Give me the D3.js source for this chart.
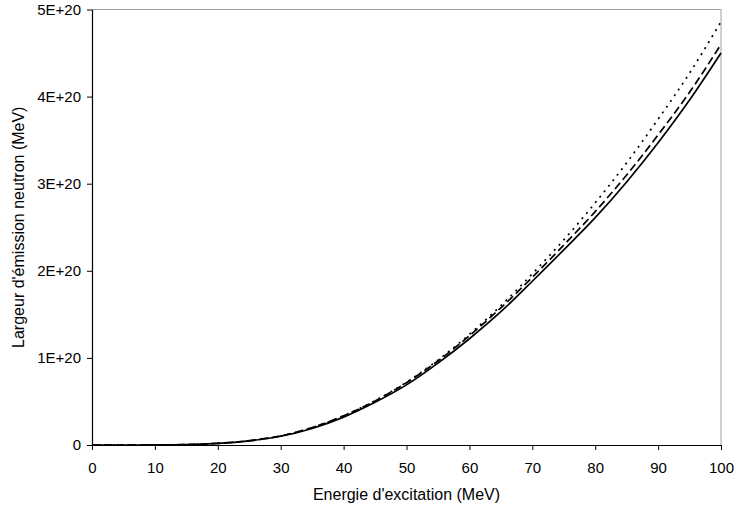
<!DOCTYPE html>
<html>
<head>
<meta charset="utf-8">
<script src="https://cdn.jsdelivr.net/npm/d3@7"></script>
<style>
  body { margin: 0; background: #fff; }
  text { font-family: "Liberation Sans", Arial, sans-serif; }
</style>
</head>
<body>
<script>
// excitation energy (MeV)
const energy = [0, 5, 10, 15, 20, 25, 30, 35, 40, 45, 50, 55, 60, 65, 70, 75, 80, 85, 90, 95, 100];
// neutron emission width, in units of 1E+20
const solid  = [0, 0, 0.0005, 0.004, 0.018, 0.048, 0.10, 0.19, 0.32, 0.49, 0.69, 0.94, 1.22, 1.53, 1.88, 2.24, 2.61, 3.02, 3.47, 3.96, 4.50];
const dashed = [0, 0, 0.0005, 0.004, 0.019, 0.050, 0.105, 0.20, 0.335, 0.505, 0.715, 0.965, 1.255, 1.575, 1.925, 2.295, 2.68, 3.10, 3.56, 4.05, 4.60];
const dotted = [0, 0, 0.0005, 0.004, 0.019, 0.050, 0.105, 0.20, 0.335, 0.51, 0.72, 0.975, 1.27, 1.60, 1.965, 2.355, 2.78, 3.24, 3.74, 4.27, 4.86];

const xTicks = [0, 10, 20, 30, 40, 50, 60, 70, 80, 90, 100];
const yTicks = [0, 1, 2, 3, 4, 5];
const yTickLabels = ["0", "1E+20", "2E+20", "3E+20", "4E+20", "5E+20"];

const series = [
  { values: solid, dash: null },
  { values: dashed, dash: "8,4" },
  { values: dotted, dash: "2,5" }
];

const width = 736, height = 509;
const mLeft = 92, mRight = 721, mTop = 9.5, mBottom = 445;

const svg = d3.select("body").append("svg")
    .attr("width", width)
    .attr("height", height);

const x = d3.scaleLinear().domain([0, 100]).range([mLeft, mRight]);
const y = d3.scaleLinear().domain([0, 5]).range([mBottom, mTop]);

// grey frame on top and right
svg.append("path")
    .attr("d", `M${mLeft},${mTop}H${mRight}V${mBottom}`)
    .attr("fill", "none")
    .attr("stroke", "#a0a0a0")
    .attr("stroke-width", 1);

const line = d3.line()
    .x((d, i) => x(energy[i]))
    .y(d => y(d))
    .curve(d3.curveMonotoneX);

svg.append("g")
    .selectAll("path")
    .data(series)
    .enter()
    .append("path")
    .attr("d", d => line(d.values))
    .attr("fill", "none")
    .attr("stroke", "#000")
    .attr("stroke-width", 1.7)
    .attr("stroke-dasharray", d => d.dash);

const xAxis = svg.append("g")
    .attr("transform", `translate(0,${mBottom})`)
    .call(d3.axisBottom(x).tickValues(xTicks).tickSize(5).tickSizeOuter(0).tickPadding(12));

const yAxis = svg.append("g")
    .attr("transform", `translate(${mLeft},0)`)
    .call(d3.axisLeft(y).tickValues(yTicks).tickFormat((d, i) => yTickLabels[i])
        .tickSize(5).tickSizeOuter(0).tickPadding(6));

[xAxis, yAxis].forEach(g => {
  g.select(".domain").attr("stroke", "#000").attr("stroke-width", 1.2);
  g.selectAll(".tick line").attr("stroke", "#000");
  g.selectAll(".tick text")
      .attr("font-size", 15)
      .attr("font-family", "Liberation Sans, Arial, sans-serif")
      .attr("fill", "#000");
});

svg.append("text")
    .attr("x", (mLeft + mRight) / 2)
    .attr("y", 500)
    .attr("text-anchor", "middle")
    .attr("font-size", 16)
    .text("Energie d'excitation (MeV)");

svg.append("text")
    .attr("transform", `translate(24,${(mTop + mBottom) / 2}) rotate(-90)`)
    .attr("text-anchor", "middle")
    .attr("font-size", 16)
    .text("Largeur d'émission neutron (MeV)");
</script>
</body>
</html>
